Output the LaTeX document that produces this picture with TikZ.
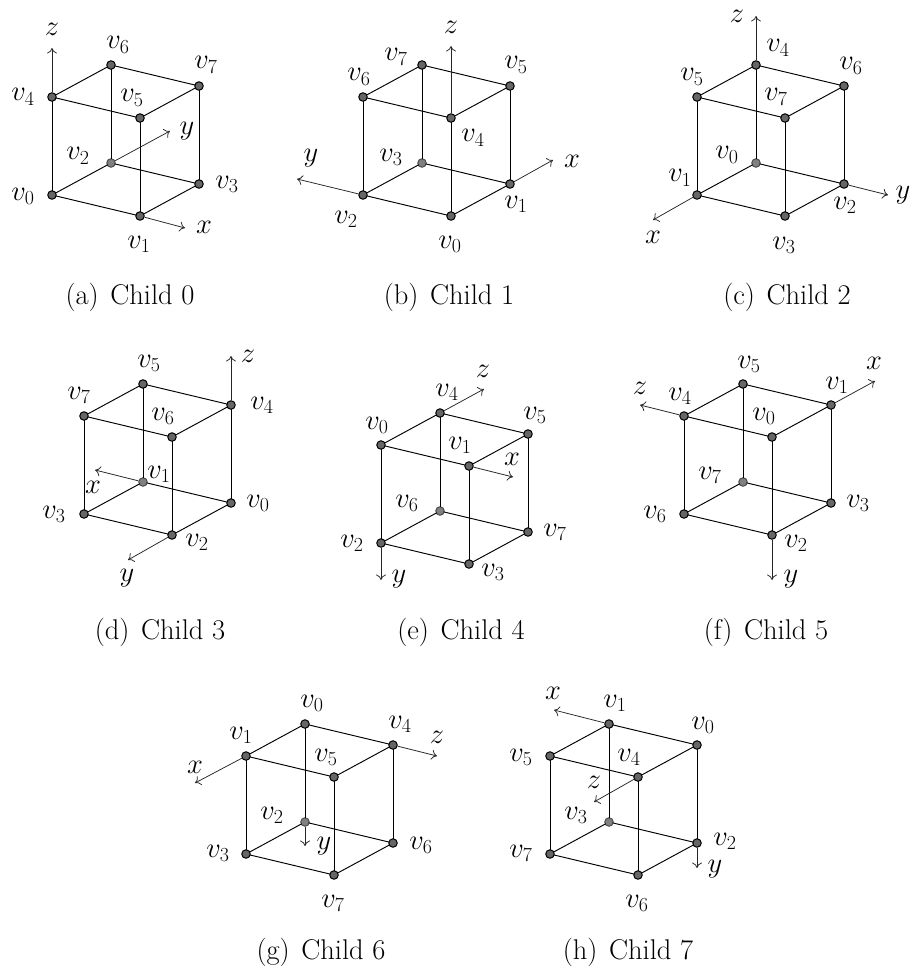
\documentclass[tikz,border=0pt]{standalone}
\usepackage{fix-cm}
\usetikzlibrary{arrows.meta}
\newcount\labc
\tikzset{
  x=1pt,y=-1pt,
  dotf/.style={circle,draw=black,fill=black!60,line width=1pt,inner sep=0pt,minimum size=8.5pt},
  dotb/.style={circle,draw=black!70,fill=black!50,line width=1pt,inner sep=0pt,minimum size=8.5pt},
  edgeline/.style={draw=black,line width=0.95pt,shorten >=-1pt,shorten <=-1pt},
  axisline/.style={draw=black!85,line width=0.75pt,-{Computer Modern Rightarrow[length=5.5pt,width=10pt,line width=0.75pt]}},
  lbl/.style={inner sep=0pt,font=\fontsize{28.5}{34}\selectfont},
  captext/.style={inner sep=0pt,font=\fontsize{28.5}{34}\selectfont}
}
\newcommand{\cubeat}[3]{%
  \node[dotf] (#1-A) at (#2,#3) {};
  \node[dotf] (#1-B) at (#2+88,#3+21) {};
  \node[dotf] (#1-C) at (#2+147,#3-11) {};
  \node[dotb] (#1-D) at (#2+59,#3-32) {};
  \node[dotf] (#1-E) at (#2,#3-98) {};
  \node[dotf] (#1-F) at (#2+88,#3-77) {};
  \node[dotf] (#1-G) at (#2+147,#3-109) {};
  \node[dotf] (#1-H) at (#2+59,#3-130) {};
  \draw[edgeline] (#1-A)--(#1-B); \draw[edgeline] (#1-B)--(#1-C);
  \draw[edgeline] (#1-C)--(#1-D); \draw[edgeline] (#1-D)--(#1-A);
  \draw[edgeline] (#1-E)--(#1-F); \draw[edgeline] (#1-F)--(#1-G);
  \draw[edgeline] (#1-G)--(#1-H); \draw[edgeline] (#1-H)--(#1-E);
  \draw[edgeline] (#1-A)--(#1-E); \draw[edgeline] (#1-B)--(#1-F);
  \draw[edgeline] (#1-C)--(#1-G); \draw[edgeline] (#1-D)--(#1-H);
}
\newcommand{\ax}[4]{% cube, corner, end
  \coordinate (#1-#2-end) at (#3,#4);
  \draw[axisline] (#1-#2) -- (#1-#2-end);
}
\newcommand{\lab}[3]{\global\advance\labc by 1
  \node[lbl] (lab\the\labc) at (#1,#2) {$#3$};}
\newcommand{\capt}[3]{\global\advance\labc by 1
  \node[captext] (lab\the\labc) at (#1,#2) {#3};}
\begin{document}
\begin{tikzpicture}
\useasboundingbox (0,0) rectangle (912,969);
% (a)
\cubeat{a}{52}{195}
\ax{a}{E}{52}{48} \ax{a}{B}{185}{228} \ax{a}{D}{170}{131}
\lab{52}{29}{z} \lab{118}{45}{v_6} \lab{206}{65}{v_7} \lab{23}{97}{v_4}
\lab{132}{98}{v_5} \lab{187}{131}{y} \lab{78}{156}{v_2} \lab{23}{196}{v_0}
\lab{227}{184}{v_3} \lab{204}{227}{x} \lab{139}{244}{v_1}
\capt{130}{297}{(a)\hspace{3pt} Child 0}
% (b)
\cubeat{b}{363}{195}
\ax{b}{F}{451}{46} \ax{b}{C}{553}{160} \ax{b}{A}{297}{179}
\lab{451}{27}{z} \lab{396}{57}{v_7} \lab{359}{77}{v_6} \lab{516}{65}{v_5}
\lab{473}{138}{v_4} \lab{391}{157}{v_3} \lab{311}{158}{y} \lab{572}{161}{x}
\lab{516}{204}{v_1} \lab{346}{219}{v_2} \lab{450}{244}{v_0}
\capt{449}{297}{(b)\hspace{3pt} Child 1}
% (c)
\cubeat{c}{697}{195}
\ax{c}{H}{756}{16} \ax{c}{C}{888}{195} \ax{c}{A}{653}{220}
\lab{737}{16}{z} \lab{778}{48}{v_4} \lab{851}{66}{v_6} \lab{692}{77}{v_5}
\lab{776}{97}{v_7} \lab{727}{155}{v_0} \lab{680}{178}{v_1} \lab{845}{205}{v_2}
\lab{903}{195}{y} \lab{653}{237}{x} \lab{784}{245}{v_3}
\capt{787}{297}{(c)\hspace{3pt} Child 2}
% (d)
\cubeat{d}{84}{514}
\ax{d}{D}{95}{470} \ax{d}{B}{128}{560} \ax{d}{G}{231}{356}
\lab{248}{356}{z} \lab{149}{363}{v_5} \lab{79}{395}{v_7} \lab{262}{405}{v_4}
\lab{163}{416}{v_6} \lab{159}{474}{v_1} \lab{93}{487}{x} \lab{54}{514}{v_3}
\lab{258}{503}{v_0} \lab{197}{542}{v_2} \lab{127}{578}{y}
\capt{160}{632}{(d)\hspace{3pt} Child 3}
% (e)
\cubeat{e}{381}{543}
\ax{e}{H}{484}{389} \ax{e}{F}{513}{477} \ax{e}{A}{381}{580}
\lab{483}{371}{z} \lab{447}{392}{v_4} \lab{377}{425}{v_0} \lab{535}{415}{v_5}
\lab{460}{445}{v_1} \lab{512}{459}{x} \lab{407}{503}{v_6} \lab{555}{532}{v_7}
\lab{352}{543}{v_2} \lab{493}{572}{v_3} \lab{399}{579}{y}
\capt{461}{632}{(e)\hspace{3pt} Child 4}
% (f)
\cubeat{f}{684}{514}
\ax{f}{E}{640}{405} \ax{f}{G}{875}{381} \ax{f}{B}{772}{580}
\lab{640}{388}{z} \lab{749}{364}{v_5} \lab{874}{363}{x} \lab{837}{385}{v_1}
\lab{680}{396}{v_4} \lab{764}{416}{v_0} \lab{710}{475}{v_7} \lab{858}{503}{v_3}
\lab{655}{514}{v_6} \lab{796}{543}{v_2} \lab{791}{579}{y}
\capt{766}{632}{(f)\hspace{3pt} Child 5}
% (g)
\cubeat{g}{246}{854}
\ax{g}{E}{195}{783} \ax{g}{G}{437}{756} \ax{g}{D}{305}{846}
\lab{312}{703}{v_0} \lab{241}{735}{v_1} \lab{400}{724}{v_4} \lab{437}{737}{z}
\lab{195}{767}{x} \lab{326}{757}{v_5} \lab{272}{815}{v_2} \lab{324}{846}{y}
\lab{421}{845}{v_6} \lab{218}{853}{v_3} \lab{333}{903}{v_7}
\capt{321}{952}{(g)\hspace{3pt} Child 6}
% (h)
\cubeat{h}{550}{854}
\ax{h}{H}{554}{710} \ax{h}{F}{594}{802} \ax{h}{C}{697}{868}
\lab{553}{693}{x} \lab{615}{703}{v_1} \lab{703}{725}{v_0} \lab{521}{757}{v_5}
\lab{629}{757}{v_4} \lab{594}{782}{z} \lab{576}{815}{v_3} \lab{725}{841}{v_2}
\lab{715}{869}{y} \lab{521}{853}{v_7} \lab{637}{903}{v_6}
\capt{628}{952}{(h)\hspace{3pt} Child 7}
\end{tikzpicture}
\end{document}
